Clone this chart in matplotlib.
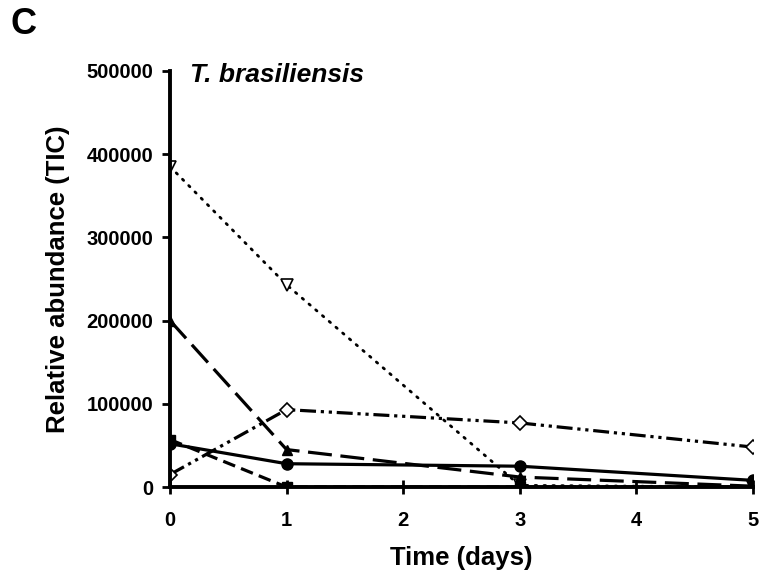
import matplotlib
matplotlib.use("Agg")
import matplotlib.pyplot as plt

plt.rcParams["font.family"] = ["Liberation Sans", "DejaVu Sans"]
plt.rcParams["font.weight"] = "bold"

days = [0, 1, 3, 5]
open_tri = [385000, 243000, 2000, 0]
filled_tri = [200000, 45000, 12000, 1000]
circle = [52000, 28000, 25000, 8000]
square = [57000, 0, 0, 0]
diamond = [15000, 93000, 77000, 48000]

fig = plt.figure(figsize=(7.64, 5.78), dpi=100)
ax = fig.add_axes([0.2225, 0.1574, 0.763, 0.72])

ax.plot(days, open_tri, color="black", lw=2, linestyle=(0, (0.6, 2.6)),
        dash_capstyle="round", marker="v", markersize=8,
        markerfacecolor="white", markeredgecolor="black", markeredgewidth=1.2)
ax.plot(days, filled_tri, color="black", lw=2.3, linestyle=(0, (7.5, 2.7)),
        marker="^", markersize=7.5, markerfacecolor="black", markeredgecolor="black")
ax.plot(days, circle, color="black", lw=2.3, linestyle="-",
        marker="o", markersize=8, markerfacecolor="black", markeredgecolor="black")
ax.plot(days, square, color="black", lw=2.3, linestyle=(0, (4, 2)),
        marker="s", markersize=7.5, markerfacecolor="black", markeredgecolor="black")
ax.plot(days, diamond, color="black", lw=2.3,
        linestyle=(0, (5, 1.5, 1, 1.5, 1, 1.5)),
        marker="D", markersize=7, markerfacecolor="white", markeredgecolor="black",
        markeredgewidth=1.2)

ax.set_xlim(0, 5)
ax.set_ylim(0, 500000)
ax.set_xticks([0, 1, 2, 3, 4, 5])
ax.set_yticks([0, 100000, 200000, 300000, 400000, 500000])
ax.set_yticklabels(["0", "100000", "200000", "300000", "400000", "500000"])

for s in ["top", "right"]:
    ax.spines[s].set_visible(False)
for s in ["left", "bottom"]:
    ax.spines[s].set_linewidth(2.8)
ax.spines["left"].set_zorder(5)
ax.tick_params(axis="both", width=2, labelsize=14.5)
ax.tick_params(axis="y", direction="out", length=6, pad=6)
ax.tick_params(axis="x", direction="inout", length=10, pad=12)
for lab in ax.get_xticklabels() + ax.get_yticklabels():
    lab.set_fontweight("bold")

ax.set_xlabel("Time (days)", fontsize=18.5, fontweight="bold", labelpad=12)
ax.set_ylabel("Relative abundance (TIC)", fontsize=18.5, fontweight="bold", labelpad=12)
ax.text(0.17, 495000, "T. brasiliensis", fontsize=19, fontweight="bold",
        fontstyle="italic", va="center", ha="left")
fig.text(0.014, 0.957, "C", fontsize=26, fontweight="bold", va="center", ha="left")

fig.savefig("out.png", dpi=100)
